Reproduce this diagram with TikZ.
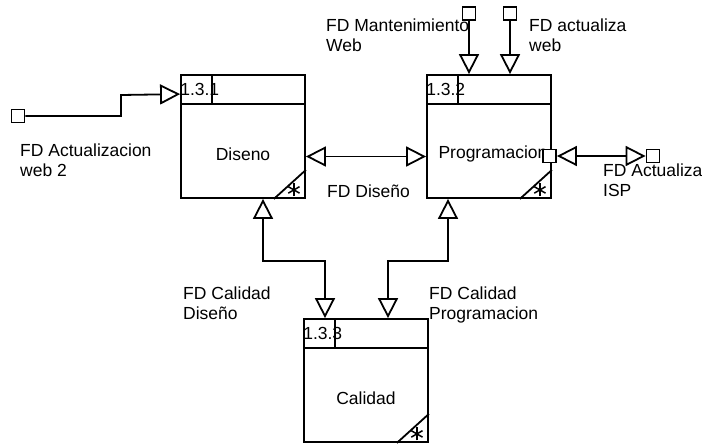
\documentclass[tikz,border=0pt]{standalone}
\usepackage{fontspec}
\setmainfont{Liberation Sans}
\usetikzlibrary{arrows.meta,calc}
\tikzset{
  proc/.style={draw, line width=1.8pt, minimum width=124pt, minimum height=123pt, inner sep=0pt},
  port/.style={draw, fill=white, line width=1.8pt, minimum size=13pt, inner sep=0pt},
  flow/.style={line width=1.8pt, -{Triangle[open,length=20pt,width=20pt]}},
  twoway/.style={line width=1.8pt, {Triangle[open,length=20pt,width=20pt]}-{Triangle[open,length=20pt,width=20pt]}},
  lbl/.style={anchor=north west, inner sep=0pt, align=left, font=\fontsize{17.5}{20}\selectfont},
  txt/.style={inner sep=0pt, font=\fontsize{17.5}{20}\selectfont},
}
\def\procparts(#1)(#2){%
  \draw[line width=1.8pt] ($(#1.north west)+(0,29.5)$) -- ($(#1.north east)+(0,29.5)$);
  \node[txt, anchor=west] (#1-num) at ($(#1.north west)+(0,15.5)$) {#2};
  \draw[line width=1.8pt] ($(#1.north west)+(31.5,0)$) -- ($(#1.north west)+(31.5,29.5)$);
  \draw[line width=1.8pt] ($(#1.south east)+(0,-29)$) -- ($(#1.south east)+(-32,0)$);
  \foreach \a in {90,30,150}
    \draw[line width=1.5pt] ($(#1.south east)+(-12,-9)$) +(\a:6.5) -- +(\a+180:6.5);
}

\begin{document}
\begin{tikzpicture}[x=1pt, y=-1pt]
			%%%%% START %%%%%
			\useasboundingbox (0,0) rectangle (702,445);
			
			\node[proc] (diseno) at (243,136.5) {};
			\node[proc] (progra) at (489,136.5) {};
			\node[proc] (calidad) at (366,380.5) {};
			
			\node[txt] (diseno-t) at ($(diseno.center)+(0,18)$) {Diseno};
			\node[txt] (progra-t) at ($(progra.center)+(4,17)$) {Programacion};
			\node[txt] (calidad-t) at ($(calidad.center)+(0,18)$) {Calidad};
			
			\procparts(diseno)(1.3.1)
			\procparts(progra)(1.3.2)
			\procparts(calidad)(1.3.3)
			
			% outside ports
			\node[port] (p-web2) at (18,116) {};
			\node[port] (p-mant) at (469,13.5) {};
			\node[port] (p-actu) at (510,13.5) {};
			\node[port] (p-isp) at (653,156) {};
			\node[port] (p-progra) at (549.5,156) {};
			
			% flows
			\draw[flow] (p-web2.east) -| (121,95) -- ($(diseno.north west)+(0,20)$);
			\draw[flow] (p-mant.south) -- (p-mant.south |- progra.north);
			\draw[flow] (p-actu.south) -- (p-actu.south |- progra.north);
			\draw[twoway] ($(diseno.east)+(0,20)$) -- ($(progra.west)+(0,20)$);
			\draw[twoway] (p-progra.east) -- (p-isp.west);
			\draw[twoway] ($(diseno.south)+(20,0)$) -- ++(0,62) -| ($(calidad.north)+(-41,0)$);
			\draw[twoway] ($(progra.south)+(-41,0)$) -- ++(0,62) -| ($(calidad.north)+(22,0)$);
			
			% flow names
			\node[lbl] (l-web2) at (20,144) {FD Actualizacion\\web 2};
			\node[lbl] (l-mant) at (326,19) {FD Mantenimiento\\Web};
			\node[lbl] (l-actu) at (529,19) {FD actualiza\\web};
			\node[lbl] (l-dis) at (327,185) {FD Diseño};
			\node[lbl] (l-isp) at (603,164) {FD Actualiza\\ISP};
			\node[lbl] (l-caldis) at (183,287) {FD Calidad\\Diseño};
			\node[lbl] (l-calpro) at (429,287) {FD Calidad\\Programacion};
			
			%%%%% END %%%%%
		\end{tikzpicture}
\end{document}
